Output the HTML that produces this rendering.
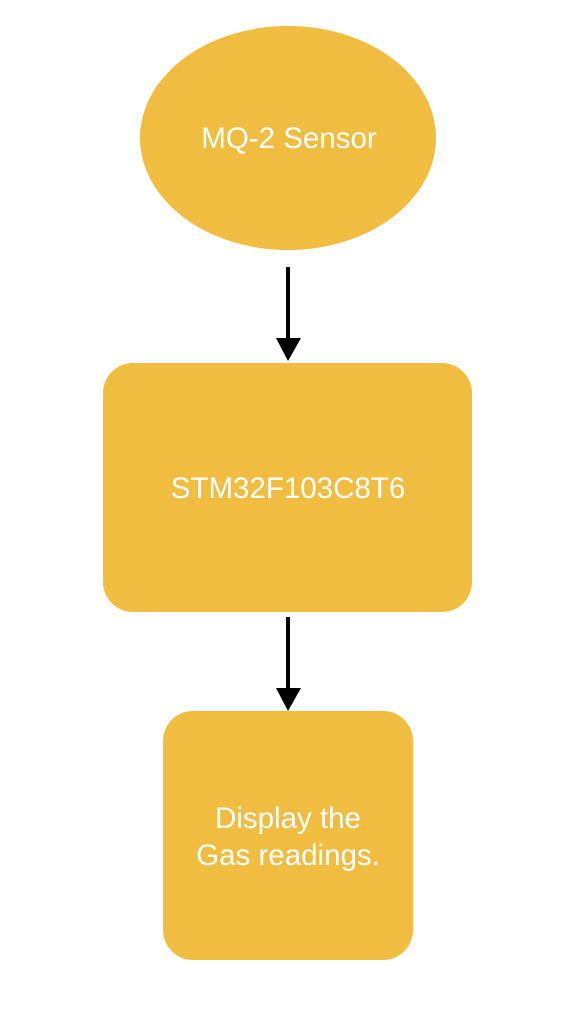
<!DOCTYPE html>
<html><head><meta charset="utf-8"><style>
body{margin:0;background:#fff;width:578px;height:1004px;overflow:hidden}
</style></head><body>
<svg width="578" height="1004" xmlns="http://www.w3.org/2000/svg" font-family="Liberation Sans, Arial, sans-serif" font-size="29.5" fill="#fff">
<ellipse cx="288" cy="138" rx="148" ry="112" fill="#F0BD40"/>
<text x="289" y="148" text-anchor="middle" fill="#fff">MQ-2 Sensor</text>
<line x1="288" y1="267" x2="288" y2="340" stroke="#000" stroke-width="4"/>
<polygon points="276,338 301,338 288,361" fill="#000"/>
<rect x="103" y="363" width="369" height="249" rx="30" fill="#F0BD40"/>
<text x="288" y="498" text-anchor="middle" fill="#fff">STM32F103C8T6</text>
<line x1="288" y1="617" x2="288" y2="690" stroke="#000" stroke-width="4"/>
<polygon points="276,688 301,688 288,711" fill="#000"/>
<rect x="163" y="711" width="250" height="249" rx="30" fill="#F0BD40"/>
<text x="288" y="828" text-anchor="middle" fill="#fff">Display the</text>
<text x="288" y="865" text-anchor="middle" fill="#fff">Gas readings.</text>
</svg>
</body></html>
